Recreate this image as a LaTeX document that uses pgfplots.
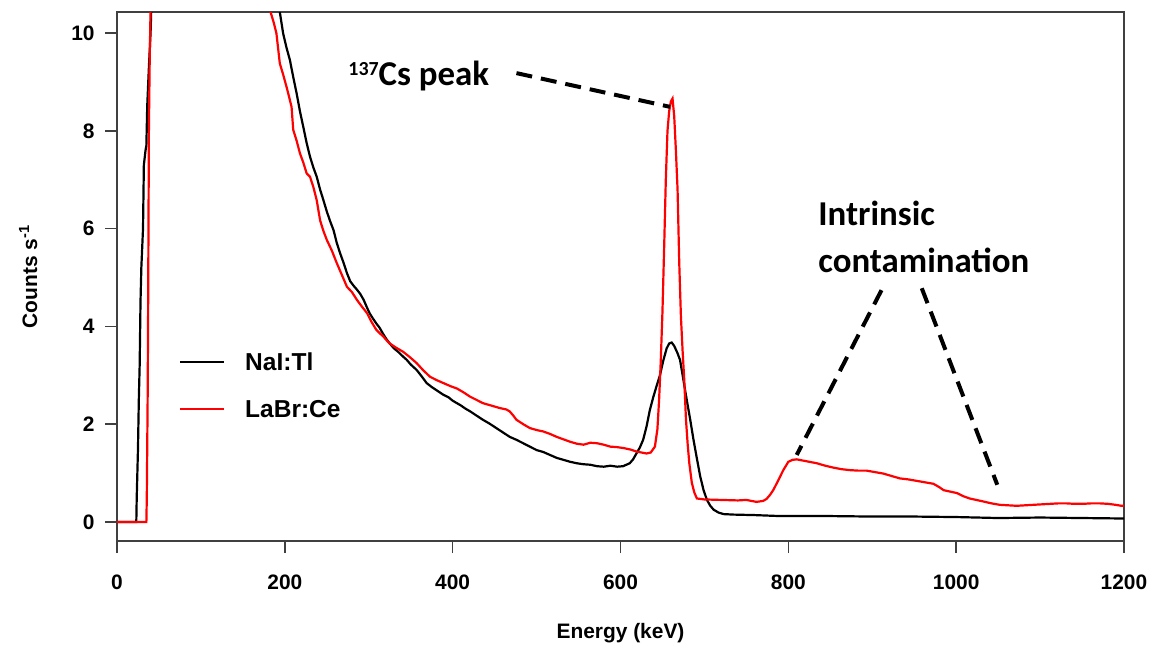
\documentclass[border=0pt]{standalone}
\usepackage{fontspec}
\setmainfont{Liberation Sans}
\newfontfamily\calibri{Carlito}
\usepackage{pgfplots}
\pgfplotsset{compat=1.18}
\usepackage{pgfplotstable}

\pgfplotstableread{
E c
0 0
23 0
23.5 0.5
25 1.5
26 2.5
27 3.2
28 4.5
29 5.2
31 6.0
32 7.3
34 7.6
35 7.7
36 8.5
38 9.3
40 10.0
41 10.6
45 14
60 25
100 30
150 20
185 11.6
194 10.43
198 9.99
202 9.7
206 9.45
210 9.1
214 8.77
218 8.4
222 8.08
226 7.75
230 7.47
234 7.25
238 7.06
242 6.8
246 6.58
250 6.35
254 6.15
258 5.97
262 5.7
266 5.49
270 5.3
274 5.09
278 4.92
282 4.83
286 4.75
290 4.66
294 4.54
298 4.38
301 4.27
305 4.16
309 4.06
313 3.97
317 3.85
321 3.74
325 3.65
330 3.55
335 3.48
341 3.38
345 3.32
350 3.22
357 3.11
363 2.98
369 2.84
375 2.76
382 2.68
389 2.6
395 2.55
400 2.48
405 2.43
410 2.38
415 2.32
421 2.26
428 2.18
436 2.09
444 2.01
452 1.92
460 1.83
468 1.74
476 1.68
484 1.61
492 1.54
500 1.47
508 1.43
516 1.37
524 1.31
532 1.27
540 1.23
548 1.2
556 1.18
564 1.17
572 1.14
580 1.13
588 1.15
596 1.13
603 1.14
607 1.17
611 1.2
615 1.28
619 1.4
623 1.52
627 1.68
631 1.95
635 2.29
639 2.55
643 2.78
647 3.0
651 3.3
655 3.55
658 3.65
661 3.67
664 3.6
668 3.45
671 3.31
675 2.9
679 2.49
683 2.1
687 1.68
691 1.3
695 0.93
699 0.65
703 0.45
707 0.33
711 0.25
717 0.19
723 0.16
735 0.15
760 0.14
790 0.12
850 0.12
900 0.11
950 0.11
1000 0.1
1050 0.08
1100 0.09
1150 0.08
1200 0.07
}\nai

\pgfplotstableread{
E c
0 0
35 0
35.5 0.5
36.5 2.5
37 4
37.5 6
38 8
39 9.5
40 10.5
41 11.2
45 15
60 26
100 30
150 18
176 11.5
183 10.43
187 10.2
190 9.99
194 9.38
198 9.15
202 8.9
205 8.7
208 8.49
210 8.02
214 7.8
218 7.54
222 7.35
226 7.13
230 7.06
234 6.85
238 6.58
242 6.17
246 5.95
250 5.77
256 5.55
262 5.29
268 5.05
274 4.81
280 4.7
286 4.54
292 4.4
298 4.27
303 4.1
309 3.93
313 3.86
317 3.8
321 3.72
325 3.65
333 3.56
341 3.48
349 3.37
357 3.25
365 3.1
373 2.97
381 2.9
389 2.84
397 2.78
405 2.73
413 2.65
421 2.56
428 2.5
436 2.43
446 2.38
456 2.33
464 2.3
468 2.26
472 2.18
476 2.09
484 2.0
492 1.92
500 1.88
508 1.85
516 1.8
524 1.74
532 1.69
540 1.64
548 1.6
556 1.58
564 1.62
572 1.61
580 1.58
588 1.54
596 1.53
604 1.51
612 1.48
619 1.44
625 1.42
631 1.4
636 1.42
641 1.54
644 1.9
646 2.5
648 3.3
650 4.3
652 5.6
654 7.0
656 8.0
658 8.4
660 8.6
662 8.66
664 8.3
666 7.6
668 6.8
670 5.3
672 4.2
674 3.5
676 2.9
678 2.1
680 1.6
682 1.2
685 0.8
688 0.6
691 0.48
700 0.46
720 0.45
740 0.44
750 0.45
762 0.41
770 0.43
774 0.47
778 0.55
782 0.65
788 0.85
794 1.06
800 1.23
805 1.27
810 1.28
822 1.24
834 1.2
844 1.15
854 1.11
863 1.08
873 1.06
883 1.05
893 1.05
903 1.02
913 0.99
923 0.94
933 0.89
943 0.87
953 0.84
963 0.81
973 0.78
980 0.71
985 0.65
993 0.62
1001 0.59
1008 0.53
1016 0.48
1024 0.45
1032 0.42
1042 0.38
1052 0.35
1062 0.34
1072 0.33
1082 0.34
1092 0.35
1102 0.36
1112 0.37
1122 0.38
1131 0.38
1141 0.37
1151 0.37
1161 0.38
1171 0.38
1181 0.37
1190 0.35
1197 0.33
1200 0.33
}\labr

\begin{document}
\begin{tikzpicture}
\begin{axis}[
  scale only axis, width=503.5bp, height=264.5bp,
  xmin=0, xmax=1200, ymin=-0.39, ymax=10.43,
  axis line style={line width=0.75bp, black!75},
  tick style={line width=0.75bp, black!75},
  tick align=outside, tick pos=left, major tick length=6bp,
  xtick={0,200,...,1200}, ytick={0,2,...,10},
  /pgf/number format/assume math mode=true,
  /pgf/number format/1000 sep={},
  ticklabel style={font=\bfseries\fontsize{10.5}{12}\selectfont, inner sep=0pt},
  xticklabel style={anchor=north, yshift=-10.5bp},
  yticklabel style={anchor=east, xshift=-5bp},
  xlabel={Energy (keV)},
  ylabel={Counts s\textsuperscript{-1}},
  label style={font=\bfseries\fontsize{10.5}{12}\selectfont, inner sep=0pt},
  xlabel style={at={(axis description cs:0.5,-0.185)}, anchor=base},
  ylabel style={at={(axis description cs:-0.0794,0.5)}, anchor=base},
  legend style={draw=none, fill=none, inner sep=0pt, outer sep=0pt,
    at={(axis description cs:0.0616,0.294)}, anchor=west,
    font=\bfseries\fontsize{12.3}{14}\selectfont, row sep=14.7bp,
    nodes={inner sep=0pt, text height=8.8bp, text depth=0pt},
    /tikz/every odd column/.append style={column sep=10bp}},
  legend cell align=left,
  legend image code/.code={\draw[#1] (0bp,0bp) -- (22bp,0bp);},
]
\addplot[black, line width=1.1bp] table[x=E, y=c] {\nai};
\addlegendentry{NaI:Tl}
\addplot[red, line width=1.1bp] table[x=E, y=c] {\labr};
\addlegendentry{LaBr:Ce}
\addplot[black, line width=2bp, dash pattern=on 8bp off 4.5bp, forget plot] coordinates {(476,9.18) (659,8.49)};
\addplot[black, line width=2bp, dash pattern=on 8bp off 4.5bp, forget plot] coordinates {(911,4.74) (810,1.37)};
\addplot[black, line width=2bp, dash pattern=on 8bp off 4.5bp, forget plot] coordinates {(959,4.78) (1049,0.76)};
\node[anchor=base west, inner sep=0pt, font=\calibri\bfseries\fontsize{17.5}{20}\selectfont] at (axis cs:275.3,8.92) {\raisebox{5bp}{\fontsize{10}{10}\selectfont 137}Cs peak};
\node[anchor=base west, inner sep=0pt, font=\calibri\bfseries\fontsize{17.5}{20}\selectfont] at (axis cs:835.3,6.06) {Intrinsic};
\node[anchor=base west, inner sep=0pt, font=\calibri\bfseries\fontsize{17.5}{20}\selectfont] at (axis cs:835.3,5.10) {contamination};
\coordinate (bbsw) at (rel axis cs:-0.1162,-0.2004);
\coordinate (bbne) at (rel axis cs:1.0298,1.0227);
\end{axis}
\pgfresetboundingbox
\path[use as bounding box] (bbsw) rectangle (bbne);
\end{tikzpicture}
\end{document}
